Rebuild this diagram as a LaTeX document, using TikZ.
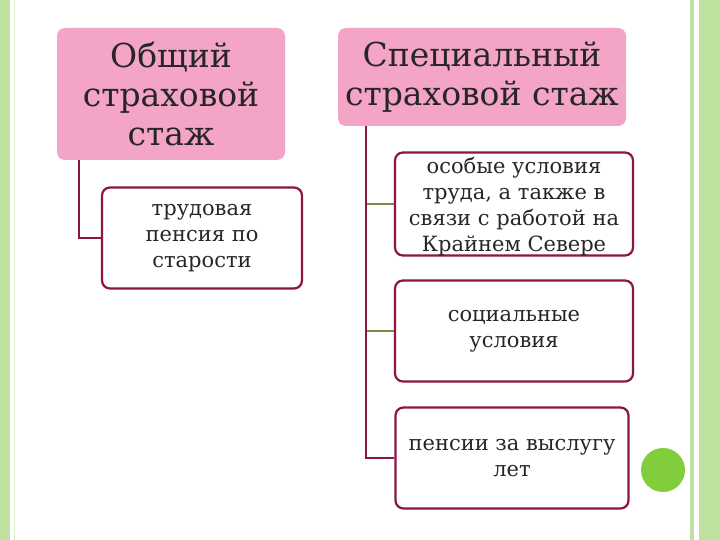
\documentclass[tikz,border=0pt]{standalone}
\usepackage{fontspec}
\setmainfont{DejaVu Serif}
\definecolor{pinkf}{RGB}{243,164,199}
\definecolor{wine}{RGB}{140,20,70}
\definecolor{lgreen}{RGB}{190,225,160}
\definecolor{ggreen}{RGB}{120,140,70}
\definecolor{dotg}{RGB}{130,205,60}
\begin{document}
\begin{tikzpicture}[x=1pt,y=-1pt,
  head/.style={fill=pinkf,rounded corners=8pt,align=center,font=\fontsize{33}{39}\selectfont,text=black!85},
  sub/.style={draw=wine,line width=2.2pt,fill=white,rounded corners=8pt,align=center,font=\fontsize{21}{26}\selectfont,text=black!85},
  conn/.style={line width=2pt,draw=wine},
  gconn/.style={line width=2pt,draw=ggreen}]
\useasboundingbox (0,0) rectangle (720,540);
\fill[white] (0,0) rectangle (720,540);
\fill[lgreen] (0,0) rectangle (10,540);
\fill[lgreen] (690,0) rectangle (694,540);
\fill[lgreen] (699,0) rectangle (720,540);
\fill[lgreen!60] (14,0) rectangle (15,540);
\node[head,minimum width=228pt,minimum height=132pt] (g) at (171,94) {Общий\\страховой\\стаж};
\node[head,minimum width=288pt,minimum height=98pt] (s) at (482,77) {Специальный\\страховой стаж};
\node[sub,minimum width=200pt,minimum height=101pt] (c1) at (202,238) {трудовая\\пенсия по\\старости};
\node[sub,minimum width=238pt,minimum height=103pt] (r1) at (514,204) {};
\node[align=center,font=\fontsize{21}{26}\selectfont,text=black!85] (r1t) at (514,207) {особые условия\\труда, а также в\\связи с работой на\\Крайнем Севере};
\node[sub,minimum width=238pt,minimum height=101pt] (r2) at (514,331) {социальные\\условия};
\node[sub,minimum width=233pt,minimum height=101pt] (r3) at (512,458) {пенсии за выслугу\\лет};
\coordinate (sb) at (366,126);
\draw[conn] (79,160) |- (c1.west);
\draw[conn] (sb) -- (366,458) -- (r3.west);
\draw[gconn] (367,204) -- (r1.west);
\draw[gconn] (367,331) -- (r2.west);
\fill[dotg] (663,470) circle (22);
\end{tikzpicture}
\end{document}
